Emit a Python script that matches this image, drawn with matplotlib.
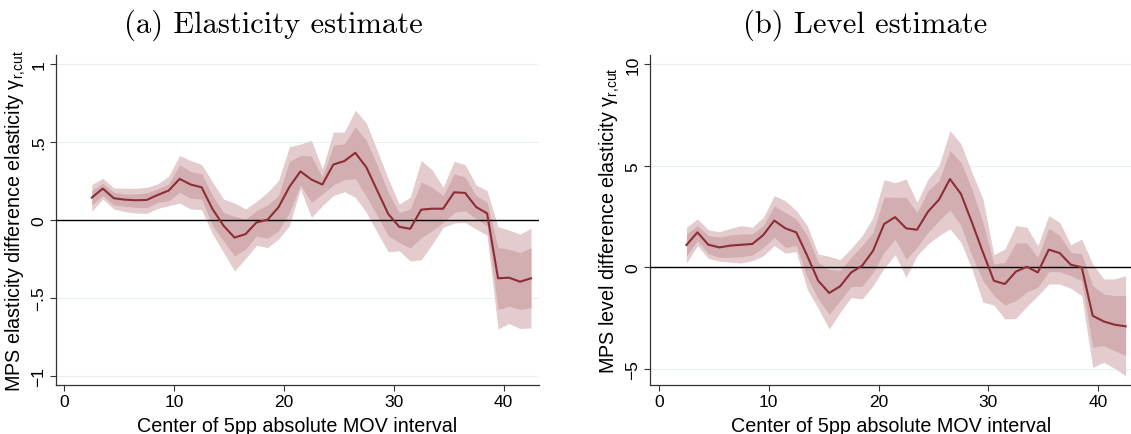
import numpy as np
import matplotlib
matplotlib.use("Agg")
import matplotlib.pyplot as plt

plt.rcParams['font.family'] = ['Liberation Sans', 'DejaVu Sans']

# bin centres of the 5pp MOV intervals
mov_center = np.arange(2.5, 43, 1.0)

# (a) elasticity estimate
est_a = [0.144, 0.202, 0.140, 0.131, 0.127, 0.129, 0.161, 0.189, 0.264, 0.228, 0.210,
         0.070, -0.036, -0.112, -0.090, -0.015, 0.002, 0.082, 0.213, 0.312,
         0.260, 0.228, 0.356, 0.378, 0.431, 0.339, 0.189, 0.039, -0.043,
         -0.056, 0.067, 0.073, 0.073, 0.178, 0.174, 0.084, 0.043,
         -0.373, -0.369, -0.395, -0.373]
hi95_a = [0.228, 0.268, 0.206, 0.204, 0.204, 0.210, 0.232, 0.281, 0.414, 0.382, 0.356,
          0.243, 0.135, 0.109, 0.071, 0.120, 0.178, 0.253, 0.470, 0.487,
          0.511, 0.328, 0.564, 0.564, 0.704, 0.622, 0.446, 0.264, 0.103,
          0.146, 0.382, 0.322, 0.210, 0.376, 0.356, 0.225, 0.189,
          -0.043, -0.064, -0.090, -0.052]
hi90_a = [0.189, 0.236, 0.178, 0.167, 0.167, 0.174, 0.200, 0.232, 0.354, 0.311, 0.296,
          0.157, 0.049, 0.024, 0.006, 0.060, 0.097, 0.157, 0.376, 0.414,
          0.410, 0.275, 0.479, 0.489, 0.597, 0.511, 0.350, 0.178, 0.049,
          0.071, 0.243, 0.210, 0.157, 0.296, 0.275, 0.157, 0.114,
          -0.176, -0.187, -0.208, -0.176]
lo90_a = [0.097, 0.157, 0.097, 0.088, 0.082, 0.079, 0.114, 0.124, 0.178, 0.140, 0.135,
          -0.036, -0.133, -0.230, -0.187, -0.101, -0.118, -0.069, 0.049, 0.225,
          0.114, 0.167, 0.225, 0.260, 0.265, 0.152, 0.028, -0.101, -0.144,
          -0.180, -0.112, -0.069, -0.015, 0.049, 0.060, 0.006, -0.036,
          -0.573, -0.552, -0.573, -0.562]
lo95_a = [0.056, 0.135, 0.071, 0.054, 0.045, 0.043, 0.075, 0.092, 0.109, 0.071, 0.067,
          -0.090, -0.208, -0.326, -0.247, -0.161, -0.176, -0.122, -0.036, 0.200,
          0.017, 0.092, 0.157, 0.182, 0.146, 0.049, -0.079, -0.204, -0.197,
          -0.262, -0.255, -0.155, -0.047, -0.019, -0.015, -0.058, -0.097,
          -0.698, -0.663, -0.695, -0.691]

# (b) level estimate
est_b = [1.10, 1.72, 1.11, 0.98, 1.07, 1.11, 1.15, 1.59, 2.30, 1.92, 1.72,
         0.57, -0.66, -1.26, -0.93, -0.25, 0.08, 0.82, 2.13, 2.47,
         1.92, 1.85, 2.74, 3.33, 4.34, 3.61, 2.21, 0.74, -0.66,
         -0.82, -0.21, 0.03, -0.25, 0.87, 0.70, 0.13, 0.00,
         -2.38, -2.66, -2.82, -2.90]
hi95_b = [1.97, 2.38, 1.84, 1.75, 1.92, 2.05, 1.97, 2.46, 3.52, 3.28, 2.79,
          2.05, 0.66, 0.54, 0.38, 0.93, 1.56, 2.46, 4.31, 4.16,
          4.34, 3.20, 4.34, 5.00, 6.72, 6.07, 4.67, 3.36, 0.62,
          0.90, 2.05, 1.97, 1.07, 2.54, 2.21, 1.11, 1.39,
          0.16, -0.57, -0.57, -0.41]
hi90_b = [1.64, 2.05, 1.56, 1.48, 1.59, 1.64, 1.64, 2.05, 3.03, 2.70, 2.38,
          1.56, 0.25, -0.11, -0.16, 0.49, 1.07, 1.72, 3.46, 3.44,
          3.44, 2.70, 3.77, 4.26, 5.74, 5.16, 3.85, 2.21, 0.16,
          0.25, 1.20, 1.20, 0.49, 1.92, 1.56, 0.74, 0.66,
          -0.90, -1.31, -1.39, -1.39]
lo90_b = [0.57, 1.31, 0.66, 0.49, 0.49, 0.52, 0.61, 0.98, 1.48, 0.98, 1.07,
          -0.49, -1.56, -2.30, -1.64, -0.95, -0.93, -0.25, 0.74, 1.39,
          0.41, 0.98, 1.72, 2.30, 2.82, 2.05, 0.57, -0.66, -1.39,
          -1.85, -1.64, -1.20, -0.98, -0.21, -0.21, -0.41, -0.66,
          -3.93, -3.85, -4.10, -4.34]
lo95_b = [0.21, 1.07, 0.44, 0.30, 0.25, 0.21, 0.33, 0.57, 1.07, 0.70, 0.77,
          -1.07, -2.02, -3.03, -2.21, -1.48, -1.56, -0.90, -0.04, 0.62,
          -0.49, 0.57, 1.15, 1.56, 1.89, 1.23, -0.08, -1.72, -1.85,
          -2.54, -2.51, -1.92, -1.39, -0.82, -0.82, -1.03, -1.39,
          -4.92, -4.67, -4.97, -5.33]

yticks_a = [-1, -0.5, 0, 0.5, 1]
yticklabels_a = ['\u22121', '\u2212.5', '0', '.5', '1']
yticks_b = [-5, 0, 5, 10]
yticklabels_b = ['\u22125', '0', '5', '10']
xticks = [0, 10, 20, 30, 40]

LINE = '#8c2d37'
INNER = '#d3aeb1'
OUTER = '#e4cbce'
GRID = '#e8f0f1'

W, H = 1131, 435
fig = plt.figure(figsize=(W / 100, H / 100), dpi=100)

ax_w = 483 / W
ax_h = (385.7 - 56) / H
ax_b = (H - 385.7) / H
ax1 = fig.add_axes([56 / W, ax_b, ax_w, ax_h])
ax2 = fig.add_axes([650 / W, ax_b, ax_w, ax_h])


def draw(ax, est, lo95, hi95, lo90, hi90, yticks, ylabs, ylim, xlim, ylabel):
    for t in yticks:
        if t != 0:
            ax.axhline(t, color=GRID, lw=0.9, zorder=0)
    ax.fill_between(mov_center, lo95, hi95, color=OUTER, lw=0, zorder=1)
    ax.fill_between(mov_center, lo90, hi90, color=INNER, lw=0, zorder=2)
    ax.axhline(0, color='black', lw=1.0, zorder=3)
    ax.plot(mov_center, est, color=LINE, lw=1.5, zorder=4)
    ax.set_xlim(*xlim)
    ax.set_ylim(*ylim)
    ax.set_xticks(xticks)
    ax.set_yticks(yticks)
    ax.set_yticklabels(ylabs, rotation=90, va='center')
    ax.tick_params(axis='both', labelsize=12.5, length=4, width=0.8,
                   color='#333333', pad=3)
    for s in ['top', 'right']:
        ax.spines[s].set_visible(False)
    for s in ['left', 'bottom']:
        ax.spines[s].set_color('#333333')
        ax.spines[s].set_linewidth(0.9)
    ax.set_xlabel('Center of 5pp absolute MOV interval', fontsize=14.2, labelpad=5)
    ax.set_ylabel(ylabel, fontsize=14.2)
    ax.yaxis.set_label_coords(-0.058, 0.5)


draw(ax1, est_a, lo95_a, hi95_a, lo90_a, hi90_a, yticks_a, yticklabels_a,
     (-1.055, 1.058), (-0.76, 43.23),
     'MPS elasticity difference elasticity \u03b3$_{\\mathregular{r{,}cut}}$')
draw(ax2, est_b, lo95_b, hi95_b, lo90_b, hi90_b, yticks_b, yticklabels_b,
     (-5.77, 10.44), (-0.82, 43.17),
     'MPS level difference elasticity \u03b3$_{\\mathregular{r{,}cut}}$')

fig.text(273 / W, (H - 33) / H, '(a) Elasticity estimate', family='cmr10',
         fontsize=22, ha='center', va='baseline')
fig.text(865.5 / W, (H - 33) / H, '(b) Level estimate', family='cmr10',
         fontsize=22, ha='center', va='baseline')

fig.savefig('out.png', dpi=100)
